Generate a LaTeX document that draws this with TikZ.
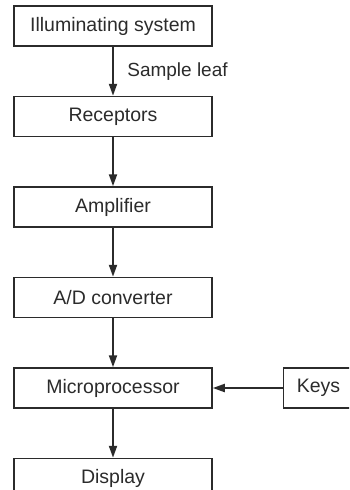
\documentclass[tikz,border=0pt]{standalone}
\usepackage{fontspec}
\setmainfont{Liberation Sans}
\usepackage{xcolor}
\usepackage{tikz}
\usetikzlibrary{arrows.meta,positioning}
\definecolor{ink}{HTML}{2B2B2B}

\begin{document}
\begin{tikzpicture}[
  x=1pt,y=1pt,
  node distance=49pt,
  block/.style={draw=ink,line width=1.5pt,minimum width=198pt,
                minimum height=40pt,inner sep=0pt,align=center,text=ink,
                font=\fontsize{19.5}{22}\selectfont},
  arr/.style={-{Triangle[length=12pt,width=8pt]},line width=2pt,draw=ink}
]
\clip (0,0) rectangle (349,-490);
\node[block] (illum) at (113,-26) {Illuminating system};
\node[block,below=of illum] (recep) {Receptors};
\node[block,below=of recep] (amp) {Amplifier};
\node[block,below=of amp] (adc) {A/D converter};
\node[block,below=of adc] (micro) {Microprocessor};
\node[block,below=of micro] (disp) {Display};
\node[block,minimum width=70pt,right=70pt of micro] (keys) {Keys};
\draw[arr] (illum)--(recep) node[midway,right=10pt,text=ink,
  font=\fontsize{19}{22}\selectfont] {Sample leaf};
\draw[arr] (recep)--(amp);
\draw[arr] (amp)--(adc);
\draw[arr] (adc)--(micro);
\draw[arr] (micro)--(disp);
\draw[arr] (keys)--(micro);
\end{tikzpicture}
\end{document}
